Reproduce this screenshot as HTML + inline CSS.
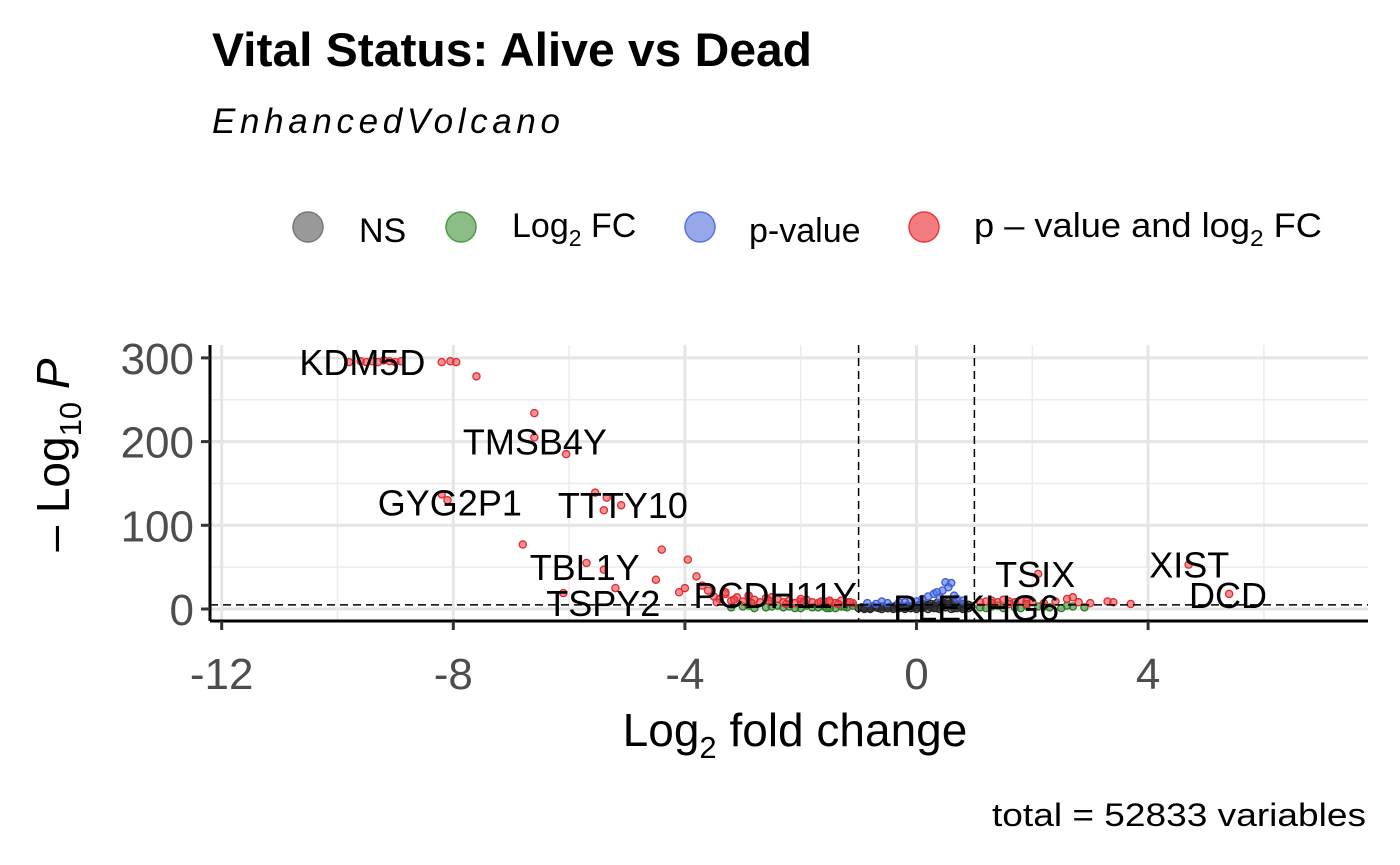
<!DOCTYPE html>
<html><head><meta charset="utf-8"><style>
html,body{margin:0;padding:0;background:#fff;}
svg{display:block;font-family:"Liberation Sans",sans-serif;}
</style></head><body>
<svg id="chart" width="1400" height="865" viewBox="0 0 1400 865">
<text x="212" y="66" font-size="47" font-weight="bold" textLength="600" lengthAdjust="spacingAndGlyphs">Vital Status: Alive vs Dead</text>
<text x="212" y="133" font-size="35" font-style="italic" textLength="348" lengthAdjust="spacing">EnhancedVolcano</text>
<g>
<circle cx="308" cy="227" r="15" fill="#999" stroke="#777" stroke-width="1.5"/>
<text x="359" y="242" font-size="34">NS</text>
<circle cx="461" cy="227" r="15" fill="#8bbd86" stroke="#4a9a44" stroke-width="1.5"/>
<text x="512" y="237" font-size="34">Log<tspan font-size="23" dy="9">2</tspan><tspan dy="-9"> FC</tspan></text>
<circle cx="700" cy="227" r="15" fill="#96a7ea" stroke="#5a73e0" stroke-width="1.5"/>
<text x="749" y="242" font-size="34">p-value</text>
<circle cx="924" cy="227" r="15" fill="#f27c80" stroke="#e8393f" stroke-width="1.5"/>
<text x="974" y="237" font-size="34" textLength="348" lengthAdjust="spacingAndGlyphs">p – value and log<tspan font-size="23" dy="9">2</tspan><tspan dy="-9"> FC</tspan></text>
</g>
<g id="grid"></g>
<g id="pts"></g>
<g id="axes"></g>
<g id="labels"></g>
<text x="795" y="746" font-size="46" text-anchor="middle">Log<tspan font-size="31" dy="12">2</tspan><tspan dy="-12"> fold change</tspan></text>
<text transform="translate(69,455) rotate(-90)" font-size="46" text-anchor="middle">– Log<tspan font-size="31" dy="12">10</tspan><tspan dy="-12" font-style="italic"> P</tspan></text>
<text x="1366" y="826" font-size="32" text-anchor="end" textLength="374" lengthAdjust="spacingAndGlyphs">total = 52833 variables</text>
</svg>
<script>
const xTicks=[-12,-8,-4,0,4];
const xMinor=[-10,-6,-2,2,6];
const yTicks=[0,100,200,300];
const yMinor=[50,150,250];
const fcCut=[-1,1];
const pCut=[5];
const redX=[-9.8,-9.6,-9.5,-9.4,-9.3,-9.2,-9.1,-9.0,-8.9,-8.2,-8.05,-7.95,-7.6,-6.6,-6.6,-6.05,-8.2,-8.1,-5.55,-5.35,-5.4,-5.1,-6.8,-5.7,-5.4,-4.4,-3.95,-4.5,-3.8,-5.2,-6.1,-4.0,-4.1,-3.7,-3.5,-3.4,-3.3,-3.2,-3.1,-3.0,-2.9,-2.8,-2.7,-2.6,-2.5,-2.4,-2.3,-2.2,-2.1,-2.0,-1.9,-1.8,-1.7,-1.6,-1.5,-1.4,-1.3,-1.2,-1.1,-3.6,-3.3,-2.9,-2.5,-2.0,-1.5,-3.45,-3.15,-2.85,-2.55,-2.25,-1.95,-1.65,-1.35,-1.15,2.1,4.7,5.4,1.1,1.2,1.3,1.4,1.5,1.6,1.7,1.8,1.9,2.0,2.2,2.4,2.6,2.7,2.8,3.0,3.3,3.4,3.7,1.3,1.6,1.9];
const redY=[295,296,295,296,295,297,296,295,296,295,296,295,278,234,205,185,137,130,139,133,118,124,77,55,47,71,59,35,39,25,19,25,20,28,15,12,18,10,14,9,16,11,8,13,9,12,8,10,7,9,11,8,7,9,8,7,10,8,7,22,20,16,14,12,10,8,11,7,10,6,8,9,6,8,42,53,18,8,9,10,8,11,9,8,10,9,8,7,9,12,14,8,7,9,8,6,7,6,6,7,7];
const greenX=[-3.2,-3.0,-2.8,-2.6,-2.4,-2.2,-2.0,-1.8,-1.6,-1.4,-1.2,-1.1,-2.5,-2.1,-1.7,-1.3,-2.9,-1.9,-1.5,-2.3,-1.55,-1.25,1.1,1.3,1.5,1.7,1.9,2.1,2.3,2.5,2.7,2.9,1.4,1.8,2.2,2.6,1.2];
const greenY=[2,3,1,2,4,3,1,2,3,1,2,4,3,1,2,3,4,4,1,2,1,3,2,3,1,2,4,3,2,1,3,2,4,1,3,4,1];
const blueX=[0.5,0.6,0.55,0.45,0.3,0.2,0.1,0.0,-0.1,-0.3,-0.5,-0.7,0.7,0.8,0.4,-0.2,0.35,0.65,-0.6,-0.85];
const blueY=[32,31,26,22,18,15,12,9,10,8,7,6,12,10,14,8,20,16,9,7];
const greyX=[-1.0,-0.95,-0.9,-0.85,-0.8,-0.75,-0.7,-0.65,-0.6,-0.55,-0.5,-0.45,-0.4,-0.35,-0.3,-0.25,-0.2,-0.15,-0.1,-0.05,0.0,0.05,0.1,0.15,0.2,0.25,0.3,0.35,0.4,0.45,0.5,0.55,0.6,0.65,0.7,0.75,0.8,0.85,0.9,0.95,-0.8,-0.6,-0.4,-0.2,0.0,0.2,0.4,0.6,0.8,-0.9,-0.5,-0.1,0.3,0.7,0.1,0.5,0.9,-0.3,0.6,0.8,0.45,0.55,0.65,0.35,0.25,0.15,0.05,-0.05,-0.15,-0.25];
const greyY=[1,2,1,2,1,3,2,1,3,2,1,3,2,4,1,3,2,4,1,3,2,4,1,3,5,2,4,1,5,3,2,6,4,1,5,3,2,4,1,3,0,0,0,0,0,0,0,0,0,0,1,1,1,1,6,6,5,3,7,6,8,9,8,7,6,5,5,4,3,3];
const labelText=["KDM5D","TMSB4Y","GYG2P1","TTTY10","TBL1Y","TSPY2","PCDH11Y","PLEKHG6","TSIX","XIST","DCD"];
const labelX=[-9.57,-6.59,-8.06,-5.07,-5.73,-5.41,-2.44,1.03,2.05,4.71,5.38];
const labelY=[295,200,127,124,50,7,17,2,42,53,17];

const NS="http://www.w3.org/2000/svg";
const X0=210,X1=1368,Y0=345,Y1=621;
const sx=v=>916.5+v*57.9;
const sy=v=>609-v*0.837;
function mk(tag,at,parent){const e=document.createElementNS(NS,tag);for(const k in at)e.setAttribute(k,at[k]);parent.appendChild(e);return e;}
const grid=document.getElementById('grid'),axes=document.getElementById('axes'),pts=document.getElementById('pts'),labs=document.getElementById('labels');
xMinor.forEach(v=>{const l=mk('line',{x1:sx(v),x2:sx(v),y1:Y0,y2:Y1,stroke:'#ebebeb','stroke-width':1.5},grid);

});
yMinor.forEach(v=>{const l=mk('line',{x1:X0,x2:X1,y1:sy(v),y2:sy(v),stroke:'#ebebeb','stroke-width':1.5},grid);

});
xTicks.forEach(v=>{const l=mk('line',{x1:sx(v),x2:sx(v),y1:Y0,y2:Y1,stroke:'#e5e5e5','stroke-width':3},grid);

});
yTicks.forEach(v=>{const l=mk('line',{x1:X0,x2:X1,y1:sy(v),y2:sy(v),stroke:'#e5e5e5','stroke-width':3},grid);

});
function dots(xs,ys,fill,stroke,name){xs.forEach((x,i)=>{const c=mk('circle',{cx:sx(x),cy:sy(ys[i]),r:3.6,fill:fill,stroke:stroke,'stroke-width':1.3,'fill-opacity':0.6},pts);

});}
dots(greyX,greyY,'#333','#222','ns-point');
dots(greenX,greenY,'#3f8f3a','#2a7a25','log2fc-point');
dots(blueX,blueY,'#4f6fe0','#3a5ad8','pvalue-point');
dots(redX,redY,'#f0484e','#e02a30','significant-point');
fcCut.forEach(v=>{const l=mk('line',{x1:sx(v),x2:sx(v),y1:Y0,y2:Y1,stroke:'#000','stroke-width':1.5,'stroke-dasharray':'8 5'},axes);

});
pCut.forEach(v=>{const l=mk('line',{x1:X0,x2:X1,y1:sy(v),y2:sy(v),stroke:'#000','stroke-width':1.5,'stroke-dasharray':'8 5'},axes);

});
const ax=mk('line',{x1:X0,x2:X1,y1:Y1,y2:Y1,stroke:'#000','stroke-width':3},axes);


const ay=mk('line',{x1:X0,x2:X0,y1:Y0,y2:Y1,stroke:'#000','stroke-width':3},axes);


xTicks.forEach(v=>{mk('line',{x1:sx(v),x2:sx(v),y1:Y1,y2:Y1+9,stroke:'#333','stroke-width':3},axes);
const t=mk('text',{x:sx(v),y:Y1+68,'font-size':44,fill:'#4d4d4d','text-anchor':'middle'},axes);t.textContent=v;

});
yTicks.forEach(v=>{mk('line',{x1:X0-9,x2:X0,y1:sy(v),y2:sy(v),stroke:'#333','stroke-width':3},axes);
const t=mk('text',{x:X0-16,y:sy(v)+16,'font-size':44,fill:'#4d4d4d','text-anchor':'end'},axes);t.textContent=v;

});
labelText.forEach((s,i)=>{const t=mk('text',{x:sx(labelX[i]),y:sy(labelY[i])+13,'font-size':36,'text-anchor':'middle',fill:'#000'},labs);t.textContent=s;

});
</script>
</body></html>
